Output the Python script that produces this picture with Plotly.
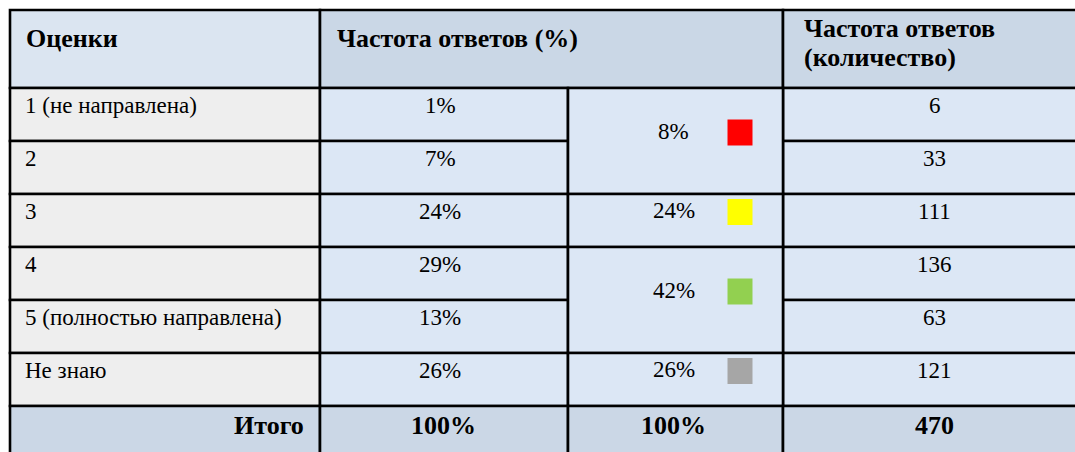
import plotly.graph_objects as go

# ---- data ----
headers = ["Оценки", "Частота ответов (%)", "Частота ответов", "(количество)"]
grades = ["1 (не направлена)", "2", "3", "4", "5 (полностью направлена)", "Не знаю"]
pct = [1, 7, 24, 29, 13, 26]
counts = [6, 33, 111, 136, 63, 121]
group_pct = [8, 24, 42, 26]
group_rows = [[0, 1], [2], [3, 4], [5]]
group_colors = ["#FF0000", "#FFFF00", "#92D050", "#A6A6A6"]
total_label = "Итого"
total_pct = 100
total_group_pct = 100
total_count = 470

# ---- layout constants ----
W, H = 1075, 452
col_x = [10, 320, 568, 783, 1088]
header_top, header_bot = 10, 88
row_h = 53
row_top = [header_bot + i * row_h for i in range(len(grades) + 1)]  # last = total row top
total_bot = 470
c_head1 = "#DBE5F1"
c_head2 = "#CAD7E6"
c_col1 = "#EEEEEE"
c_body = "#DCE7F5"
c_total = "#CBD7E6"
FONT = "Liberation Serif, Times New Roman, serif"
LW = 2.6
REG = 23
BOLD = 26

shapes = []
ann = []


def cell(x0, x1, y0, y1, fill):
    shapes.append(dict(type="rect", xref="x", yref="y", x0=x0, x1=x1, y0=y0, y1=y1,
                       fillcolor=fill, line=dict(color="black", width=LW), layer="below"))


def text(x, y, t, size=REG, bold=False, anchor="center"):
    ann.append(dict(x=x, y=y, xref="x", yref="y", text=f"<b>{t}</b>" if bold else t,
                    showarrow=False, xanchor=anchor, yanchor="middle",
                    font=dict(family=FONT, size=size, color="black")))


# header
cell(col_x[0], col_x[1], header_top, header_bot, c_head1)
cell(col_x[1], col_x[3], header_top, header_bot, c_head2)
cell(col_x[3], col_x[4], header_top, header_bot, c_head2)
text(col_x[0] + 14, 38, headers[0], size=BOLD, bold=True, anchor="left")
text(col_x[1] + 15, 38, headers[1], size=BOLD, bold=True, anchor="left")
text(col_x[3] + 19, 28, headers[2], size=BOLD, bold=True, anchor="left")
text(col_x[3] + 19, 57, headers[3], size=BOLD, bold=True, anchor="left")

# body rows
for i, g in enumerate(grades):
    y0, y1 = row_top[i], row_top[i + 1]
    cell(col_x[0], col_x[1], y0, y1, c_col1)
    cell(col_x[1], col_x[2], y0, y1, c_body)
    cell(col_x[3], col_x[4], y0, y1, c_body)
    yc = y0 + 17
    text(col_x[0] + 13, yc, g, anchor="left")
    text((col_x[1] + col_x[2]) / 2 - 4, yc, f"{pct[i]}%")
    text((col_x[3] + col_x[4]) / 2 - 1, yc, str(counts[i]))

# merged grouped cells with colour markers
for gp, rows, col in zip(group_pct, group_rows, group_colors):
    y0, y1 = row_top[rows[0]], row_top[rows[-1] + 1]
    cell(col_x[2], col_x[3], y0, y1, c_body)
    yc = (y0 + y1) / 2 - 10
    text((col_x[2] + col_x[3]) / 2 - 2, yc, f"{gp}%")
    sq = 25
    sx = col_x[2] + 172
    shapes.append(dict(type="rect", xref="x", yref="y", x0=sx - sq / 2, x1=sx + sq / 2,
                       y0=yc - sq / 2 + 1, y1=yc + sq / 2 + 2, fillcolor=col,
                       line=dict(width=0), layer="above"))

# total row
ty0 = row_top[-1]
cell(col_x[0], col_x[1], ty0, total_bot, c_total)
cell(col_x[1], col_x[2], ty0, total_bot, c_total)
cell(col_x[2], col_x[3], ty0, total_bot, c_total)
cell(col_x[3], col_x[4], ty0, total_bot, c_total)
tyc = ty0 + 19
text(col_x[1] - 14, tyc, total_label, size=BOLD, bold=True, anchor="right")
text((col_x[1] + col_x[2]) / 2 - 1, tyc, f"{total_pct}%", size=BOLD, bold=True)
text((col_x[2] + col_x[3]) / 2 - 2, tyc, f"{total_group_pct}%", size=BOLD, bold=True)
text((col_x[3] + col_x[4]) / 2 - 1, tyc, str(total_count), size=BOLD, bold=True)

fig = go.Figure()
fig.add_trace(go.Scatter(x=[0, W], y=[0, H], mode="markers", marker=dict(opacity=0),
                         hoverinfo="skip", showlegend=False))
fig.update_layout(
    width=W, height=H, margin=dict(l=0, r=0, t=0, b=0),
    paper_bgcolor="white", plot_bgcolor="white",
    xaxis=dict(range=[0, W], visible=False, fixedrange=True),
    yaxis=dict(range=[H, 0], visible=False, fixedrange=True),
    shapes=shapes, annotations=ann, showlegend=False,
)
fig.write_html("out.html", config={"displayModeBar": False},
               post_script="document.body.style.margin='0';document.body.style.overflow='hidden';")
